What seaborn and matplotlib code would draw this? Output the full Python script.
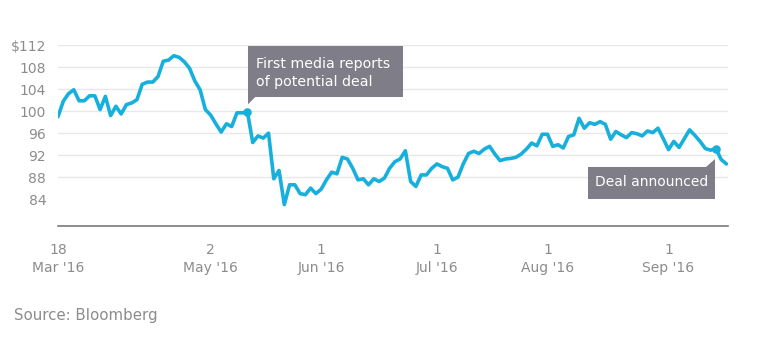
import matplotlib
matplotlib.use("Agg")
import matplotlib.pyplot as plt
from matplotlib import transforms
from matplotlib.patches import Rectangle, Polygon
import pandas as pd
import seaborn as sns

# Closing share price, one value per trading session starting 18 Mar 2016
price = [
    99.0, 101.8, 103.2, 103.9, 101.9, 101.9, 102.8, 102.8, 100.3, 102.7,
    99.2, 100.9, 99.5, 101.2, 101.5, 102.1, 104.9, 105.3, 105.3, 106.3,
    109.1, 109.3, 110.1, 109.8, 109.0, 107.8, 105.5, 103.9, 100.3, 99.3,
    97.7, 96.2, 97.7, 97.2, 99.7, 99.7, 99.8, 94.3, 95.5, 95.1,
    96.0, 87.7, 89.2, 83.0, 86.6, 86.6, 85.0, 84.8, 86.0, 85.0,
    85.8, 87.5, 88.9, 88.6, 91.6, 91.3, 89.6, 87.5, 87.7, 86.6,
    87.7, 87.2, 87.8, 89.6, 90.8, 91.3, 92.8, 87.2, 86.3, 88.4,
    88.4, 89.6, 90.4, 89.9, 89.6, 87.5, 88.0, 90.4, 92.3, 92.7,
    92.3, 93.1, 93.6, 92.2, 91.0, 91.3, 91.4, 91.6, 92.2, 93.1,
    94.2, 93.7, 95.8, 95.8, 93.6, 93.9, 93.3, 95.4, 95.7, 98.7,
    96.9, 97.9, 97.6, 98.1, 97.6, 94.9, 96.3, 95.7, 95.2, 96.1,
    95.9, 95.5, 96.4, 96.1, 96.9, 95.0, 93.0, 94.5, 93.4, 95.0,
    96.6, 95.6, 94.5, 93.2, 92.9, 93.2, 91.2, 90.4,
]
session = list(range(len(price)))

x_tick_pos = [0, 8, 29, 50, 72, 93, 116]
x_tick_labels = ["18\nMar '16", "", "2\nMay '16", "1\nJun '16",
                 "1\nJul '16", "1\nAug '16", "1\nSep '16"]
y_ticks = [84, 88, 92, 96, 100, 104, 108, 112]
y_tick_labels = ["84", "88", "92", "96", "100", "104", "108", "$112"]

first_report_idx = 36
deal_idx = 125
first_report_text = ["First media reports", "of potential deal"]
deal_text = "Deal announced"
source_text = "Source: Bloomberg"

LINE = "#17b0dc"
GREY_TXT = "#8c8c8c"
AXIS = "#7a7a7a"
GRID = "#e8e8e8"
BOX = "#7f7d87"

sns.set_theme(style="white")
plt.rcParams["font.family"] = ["DejaVu Sans"]

fig = plt.figure(figsize=(7.68, 3.48), dpi=100)
ax = fig.add_axes([58 / 768, 1 - 226 / 348, 670 / 768, 181 / 348])

df = pd.DataFrame({"session": session, "price": price})
sns.lineplot(data=df, x="session", y="price", ax=ax, color=LINE,
             linewidth=2.6, legend=False, zorder=3)

ax.set_xlim(0, 127.3)
ax.set_ylim(79.1, 112.05)

# horizontal guides
for yv in y_ticks[1:]:
    ax.axhline(yv, color=GRID, linewidth=1.0, zorder=1)

ax.set_yticks(y_ticks)
ax.set_yticklabels(y_tick_labels)
ax.set_xticks(x_tick_pos)
ax.set_xticklabels(x_tick_labels, linespacing=1.4)
ax.set_xlabel("")
ax.set_ylabel("")

for s in ["top", "right", "left"]:
    ax.spines[s].set_visible(False)
ax.spines["bottom"].set_color(AXIS)
ax.spines["bottom"].set_linewidth(1.2)

ax.tick_params(axis="y", length=0, pad=8.5, labelsize=10, labelcolor=GREY_TXT)
ax.tick_params(axis="x", length=5, width=1.2, color=AXIS, direction="out",
               pad=7, labelsize=10, labelcolor=GREY_TXT)

# event markers
ev_idx = [first_report_idx, deal_idx]
ax.scatter(ev_idx, [price[i] for i in ev_idx], s=38, color=LINE,
           zorder=4, linewidths=0)

fig.canvas.draw()
ident = transforms.IdentityTransform()


def anchor(i):
    return ax.transData.transform((i, price[i]))


def shape(px, py, pts):
    return [(px + dx, py + dy) for dx, dy in pts]


# callout above the first press reports
ax1, ay1 = anchor(first_report_idx)
fig.patches.append(Rectangle((ax1 + 0.5, ay1 + 15), 155, 51, transform=ident,
                             facecolor=BOX, edgecolor="none", figure=fig))
fig.patches.append(Polygon(shape(ax1, ay1, [(0.5, 15.5), (8, 15.5), (0.5, 8)]),
                           closed=True, transform=ident, facecolor=BOX,
                           edgecolor="none", figure=fig))
fig.text(ax1 + 8.5, ay1 + 44.5, first_report_text[0], transform=ident,
         color="white", fontsize=10.2, va="baseline", ha="left")
fig.text(ax1 + 8.5, ay1 + 26.5, first_report_text[1], transform=ident,
         color="white", fontsize=10.2, va="baseline", ha="left")

# callout below the announcement
ax2, ay2 = anchor(deal_idx)
fig.patches.append(Rectangle((ax2 - 128, ay2 - 50.7), 127.3, 32.7,
                             transform=ident, facecolor=BOX,
                             edgecolor="none", figure=fig))
fig.patches.append(Polygon(shape(ax2, ay2, [(-0.7, -10), (-0.7, -18.5), (-9.7, -18.5)]),
                           closed=True, transform=ident, facecolor=BOX,
                           edgecolor="none", figure=fig))
fig.text(ax2 - 64.5, ay2 - 37.7, deal_text, transform=ident,
         color="white", fontsize=10, va="baseline", ha="center")

fig.text(14 / 768, 1 - 320 / 348, source_text, color=GREY_TXT, fontsize=10.8,
         ha="left", va="baseline")

fig.savefig("out.png", dpi=100, facecolor="white")
